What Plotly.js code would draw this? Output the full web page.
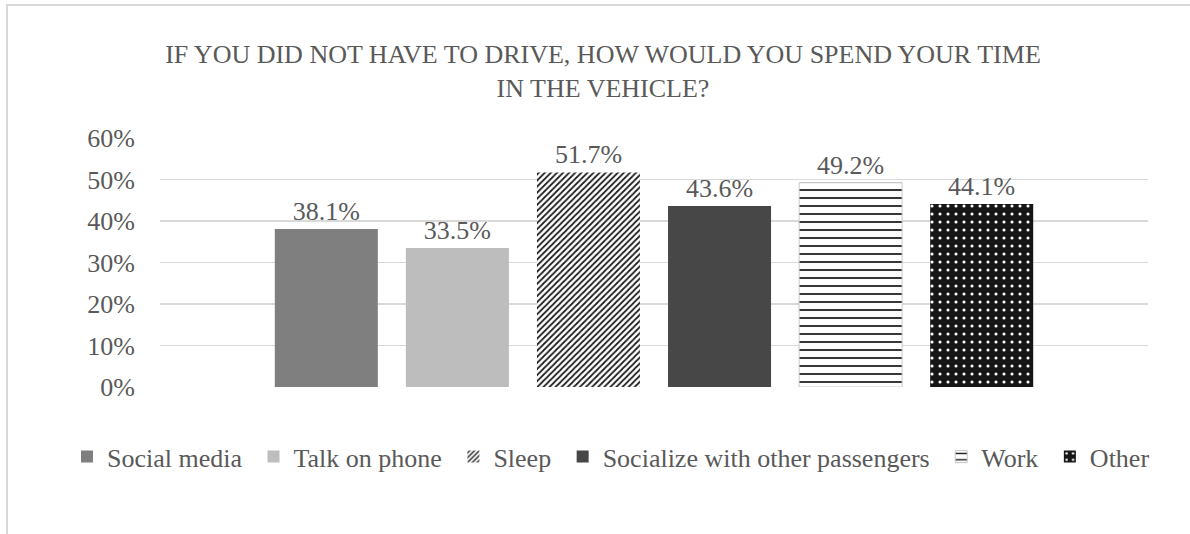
<!DOCTYPE html>
<html>
<head>
<meta charset="utf-8">
<script src="https://cdn.plot.ly/plotly-3.0.1.min.js"></script>
<style>
  html, body { margin: 0; padding: 0; background: #fff; overflow: hidden; }
  #wrap { position: relative; width: 1190px; height: 534px; }
  #chart { width: 1190px; height: 534px; }
  #frame { position: absolute; left: 6px; top: 4px; width: 1200px; height: 540px;
           border: 2px solid #d9d9d9; pointer-events: none; box-sizing: border-box; }
</style>
</head>
<body>
<div id="wrap">
  <div id="chart"></div>
  <div id="frame"></div>
</div>
<script>
const category = [""];
const seriesNames = ["Social media", "Talk on phone", "Sleep", "Socialize with other passengers", "Work", "Other"];
const seriesValues = [0.381, 0.335, 0.517, 0.436, 0.492, 0.441];
const seriesLabels = ["38.1%", "33.5%", "51.7%", "43.6%", "49.2%", "44.1%"];
const tickVals = [0, 0.1, 0.2, 0.3, 0.4, 0.5, 0.6];
const tickText = ["0%", "10%", "20%", "30%", "40%", "50%", "60%"];

const styles = [
  { color: "#7f7f80" },
  { color: "#bdbdbe" },
  { color: "#ffffff", pattern: { shape: "/", fgcolor: "#1a1a1a", bgcolor: "#ffffff", size: 4.3, solidity: 0.4, fillmode: "replace" } },
  { color: "#474747" },
  { color: "#ffffff", pattern: { shape: "-", fgcolor: "#1a1a1a", bgcolor: "#ffffff", size: 8, solidity: 0.22, fillmode: "replace" }, line: { color: "#c8c8c8", width: 1 } },
  { color: "#161616", pattern: { shape: ".", fgcolor: "#ffffff", bgcolor: "#161616", size: 8, solidity: 0.12, fillmode: "replace" } }
];

const font = "Liberation Serif, Times New Roman, serif";
const gray = "#595959";

const traces = seriesNames.map((name, i) => {
  const marker = { color: styles[i].color, line: styles[i].line || { width: 0 } };
  if (styles[i].pattern) marker.pattern = styles[i].pattern;
  return {
    type: "bar",
    name: name + "\u00a0",
    x: category,
    y: [seriesValues[i]],
    text: [seriesLabels[i]],
    textposition: "outside",
    textfont: { family: font, size: 26, color: gray },
    cliponaxis: false,
    marker: marker,
    hoverinfo: "skip"
  };
});

const layout = {
  width: 1190,
  height: 534,
  margin: { l: 160, r: 42, t: 138, b: 147, pad: 0, autoexpand: false },
  paper_bgcolor: "#ffffff",
  plot_bgcolor: "#ffffff",
  font: { family: font, color: gray },
  barmode: "group",
  bargap: 0.204,
  bargroupgap: 0.214,
  title: {
    text: "IF YOU DID NOT HAVE TO DRIVE, HOW WOULD YOU SPEND YOUR TIME<br>IN THE VEHICLE?",
    font: { family: font, size: 26, color: gray },
    x: 603 / 1190, xanchor: "center", xref: "container",
    y: 1 - 63 / 534, yanchor: "top", yref: "container"
  },
  xaxis: { showticklabels: false, showgrid: false, zeroline: false, showline: false, fixedrange: true },
  yaxis: {
    range: [0, 0.6],
    tickvals: tickVals,
    ticktext: tickText,
    tickfont: { family: font, size: 26, color: gray },
    showgrid: true,
    gridcolor: "#d9d9d9",
    gridwidth: 1.5,
    zeroline: false,
    showline: false,
    ticks: "",
    ticklabelstandoff: 24,
    fixedrange: true
  },
  showlegend: true,
  legend: {
    orientation: "h",
    xref: "paper", yref: "paper",
    x: (67 - 160) / 988, xanchor: "left",
    y: (387 - 457) / 250, yanchor: "middle",
    font: { family: font, size: 26, color: gray },
    itemwidth: 30,
    tracegroupgap: 0,
    traceorder: "normal"
  }
};

Plotly.newPlot("chart", traces, layout, { displayModeBar: false, staticPlot: true });
</script>
</body>
</html>
